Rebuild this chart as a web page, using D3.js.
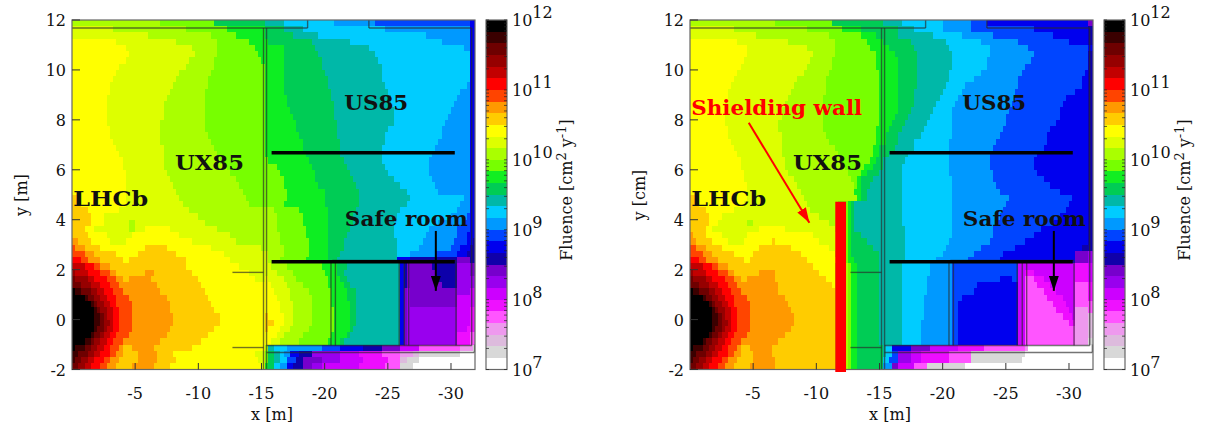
<!DOCTYPE html>
<html><head><meta charset="utf-8">
<script src="https://d3js.org/d3.v7.min.js"></script>
<style>html,body{margin:0;padding:0;background:#fff}svg{display:block}text{font-family:"DejaVu Serif",serif;fill:#111}</style>
</head><body><svg id="c" width="1206" height="430"></svg>
<script>
// contour level colours, from 10^12 (top) to 10^7 (bottom): six levels per decade
const levelColors = ["#000000","#3a0000","#6e0000","#960000","#c20000","#ff0000",
 "#ff4400","#ff9900","#ffcc00","#ffff00","#ddff00","#aaff00",
 "#77ff00","#11ee22","#00cc55","#00b8a8","#00ccff","#0099ff",
 "#0044ff","#0000ee","#1000aa","#7700cc","#9900ee","#cc00ff",
 "#ee11ff","#ff55ff","#ee99ee","#ddbbdd","#d8d8d8","#ffffff"];
const levelKeys = "ABCDEFGHIJKLMNOPQRSTUVWXYZabcd";
const xTicks = [-5,-10,-15,-20,-25,-30];
const yTicks = [12,10,8,6,4,2,0,-2];
const decades = [12,11,10,9,8,7];
// each row: fluence level + last column of the run (columns 0.25 m wide, rows 0.25 m tall, from y=12 down)
const fluenceNoWall = [
"L28 M45 O61 P67 Q83 R96 S126 T128",
"K13 L36 M49 N61 O67 P73 Q99 R126 T128",
"K24 L44 M52 N61 O70 P78 Q112 R126 T128",
"J14 K33 L46 M56 N62 O76 P88 Q117 R126 T128",
"J17 K38 L46 M58 N67 O77 P94 Q124 R126 T128",
"J18 K39 L46 M59 N67 O78 P96 Q126 T128",
"J17 K37 L45 M60 N67 O79 P97 Q126 T128",
"J15 K36 L45 M61 N67 O79 P98 Q126 T128",
"J14 K34 L44 M61 N67 O80 P98 Q126 T128",
"J13 K33 L43 M61 N67 O81 P98 Q126 T128",
"J12 K32 L43 M61 N67 O81 P99 Q125 R126 T128",
"J12 K31 L42 M61 N67 O82 P100 Q123 R126 T128",
"J11 K30 L42 M61 N68 O82 P101 Q122 R126 T128",
"J11 K29 L42 M61 N68 O83 P101 Q121 R126 T128",
"J11 K29 L42 M61 N69 O83 P102 Q120 R126 T128",
"J11 K29 L42 M61 N70 O83 P102 Q119 R126 T128",
"J11 K28 L42 M61 N71 O84 P102 Q118 R126 T128",
"J12 K28 L42 M61 N71 O84 P100 Q117 R126 T128",
"J12 K28 L43 M61 N72 O84 P99 Q117 R126 T128",
"J13 K28 L44 M61 N73 O85 P99 Q116 R126 T128",
"J14 K29 L45 M61 N73 O85 P98 Q115 R126 T128",
"J15 K29 L46 M61 N74 O85 P98 Q114 R126 T128",
"J16 K29 L47 M62 N75 O86 P98 Q113 R126 T128",
"J16 K29 L49 M65 N76 O87 P99 Q113 R126 T128",
"J17 K30 L50 M66 N77 O88 P100 Q113 R126 T128",
"J17 K31 L52 M67 N77 O89 P102 Q114 R126 T128",
"J17 K32 L53 M67 N78 O90 P104 Q115 R126 T128",
"J17 K33 L54 M68 N80 O91 P106 Q116 R126 T128",
"I2 J17 K34 L55 M68 N80 O91 P107 Q124 R126 T128",
"I3 J17 K35 L56 M67 N80 O91 P106 Q123 R126 T128",
"I5 J15 K37 L64 M72 N81 O90 P104 Q122 R126 T128",
"I6 J10 K40 L65 M73 N81 O89 P103 Q120 R125 S126 T128",
"I6 J10 K18 L20 K42 L65 M73 N81 O89 P102 Q116 R124 S126 T128",
"I4 J7 K18 L20 K23 J31 K46 L65 M74 N81 O88 P102 Q113 R122 S126 T128",
"I5 J11 K19 J34 K50 L66 M74 N81 O87 P102 Q112 R122 S125 T128",
"H2 I6 J12 K17 J38 K52 L66 M75 N81 O86 P103 Q111 R121 S125 T127 U128",
"G1 H4 I9 J23 I30 J44 K60 L67 M75 N81 O86 P103 Q110 R120 S123 T126 U128",
"G4 H7 I14 J21 I33 J48 K62 L67 M75 N81 O85 P103 Q107 R115 S122 T125 U128",
"F3 G5 H9 I16 J18 I36 J50 K62 L66 M74 N81 O84 P103 T107 U122 V126 U128",
"E4 F7 G9 H12 I36 J53 K63 L68 M79 N84 O87 P104 T105 U106 V114 U122 W126 V128",
"D1 E5 F9 G12 H14 I23 H26 I38 J56 K65 L70 M80 N84 O86 P104 T105 U106 V115 U122 W126 V128",
"C1 D5 E7 F11 G14 H16 I18 H25 I40 J58 K61 J62 K67 L71 M81 N85 O87 P104 T105 U106 V115 U122 W128",
"C3 D6 E9 F12 G15 H27 I41 J63 K68 L73 M81 N86 O88 P104 T105 U106 V117 U122 W128",
"A1 B3 C6 D8 E10 F13 G16 H28 I42 J64 K69 L75 M82 N87 O90 P104 T105 V106 W107 V122 W126 X128",
"A4 B5 C7 D9 E11 F14 G18 H30 I43 J65 K69 L76 M82 N87 O90 P104 T105 V106 W107 V122 X128",
"A6 B7 C8 D10 E12 F14 G19 H31 I44 J66 K70 L76 M82 N88 O90 P104 T105 V106 W107 V122 X128",
"A7 B8 C9 D11 E13 F15 G19 H31 I45 J66 K70 L76 M83 N88 O90 P104 T105 V106 W122 X126 Y128",
"A7 B9 C10 D11 E13 F15 G19 H32 I47 J61 I62 J67 K70 L76 M83 N88 O90 P104 T105 V106 W122 X126 Y128",
"A7 B9 C10 D12 E13 F15 G19 H32 I47 J61 I64 J67 K70 L76 M83 N88 O90 P104 T105 V106 W122 X126 Y128",
"A7 B8 C10 D11 E13 F15 G19 H31 I45 J61 I62 J66 K69 L75 M83 N88 O89 P104 T105 V106 W122 X125 Y128",
"A6 B7 C9 D10 E12 F14 G18 H30 I43 J65 K67 L73 M82 N87 O88 P104 T105 V106 W122 Y126 Z128",
"A4 B6 C7 D9 E11 F13 G16 H28 I41 J63 K66 L72 M81 N85 O86 P104 T105 V106 W122 Y126 Z128",
"A1 B4 C6 D8 E10 F12 G15 H16 I19 H26 I38 J61 L62 P64 Q68 R79 S85 T92 U98 V104 X110 Z123 a127 d128",
"B2 C5 D7 E9 F12 G14 H16 I21 H27 I32 J58 K61 M62 O64 P66 Q67 R69 T72 U76 W85 X91 Y98 Z104 a108 b110 c123 d128",
"B1 C3 D5 E7 F10 G12 H15 I21 H27 I33 J59 K61 M62 O64 P66 Q68 S71 U73 V79 W85 X92 Y100 Z104 b106 c110 d128",
"C2 D4 E6 F9 G11 H14 I19 H26 I31 J60 K61 N62 O64 Q66 R68 T70 U73 V76 W79 X91 Y99 Z104 c108 d128"
];
const fluenceWithWall = [
"L27 M45 O61 P67 Q80 R89 S94 T126 V128",
"K14 L37 M48 N54 O66 P71 Q80 R89 S109 T126 U128",
"K21 L44 M54 N59 O66 P77 Q86 R96 S115 T126 U128",
"J15 K31 L46 M56 N61 O70 P81 Q92 R104 S120 T126 U128",
"J18 K37 L46 M57 N63 O71 P82 Q95 R107 S126 T128",
"J18 K39 L46 M59 N65 O72 P83 Q95 R109 S126 U128",
"J17 K38 L45 M59 N66 O72 P83 Q94 R108 S126 U128",
"J16 K37 L45 M59 N66 O72 P83 Q94 R106 S126 U128",
"J15 K36 L44 M60 N66 O72 P82 Q92 R105 S125 T126 U128",
"J14 K34 L43 M60 N66 O72 P82 Q90 R104 S124 T126 U128",
"J13 K33 L43 M60 N66 O72 P81 Q87 R104 S124 T126 U128",
"J12 K32 L43 M60 N66 O71 P80 Q86 R103 S122 T126 U128",
"J12 K31 L42 M60 N66 O71 P79 Q85 R103 S119 T126 U128",
"J11 K30 L42 M60 N66 O71 P78 Q84 R102 S118 T126 U128",
"J11 K29 L42 M60 N66 O70 P77 Q83 R101 S117 T126 U128",
"J11 K29 L42 M60 N65 O69 P76 Q83 R100 S117 T126 U128",
"J11 K28 L42 M60 N64 O68 P75 Q83 R100 S116 T126 U128",
"J12 K28 L42 M59 N63 O67 P74 Q83 R99 S114 T126 U128",
"J12 K29 L43 M59 N62 O66 P73 Q83 R98 S113 T126 U128",
"J13 K29 L44 M59 N62 O66 P71 Q82 R97 S113 T126 U128",
"J14 K29 L46 M58 N60 O65 P71 Q82 R96 S112 T126 U128",
"J15 K29 L47 M58 N60 O63 P69 Q82 R95 S110 T126 U128",
"J16 K30 L48 M57 N59 O61 P68 Q82 R95 S109 T126 U128",
"J16 K30 L49 M55 N58 O61 P67 Q82 R95 S109 T126 U128",
"J17 K31 L50 M54 N56 O60 P67 Q82 R96 S110 T126 U128",
"J17 K33 L51 M53 N54 O58 P67 Q83 R96 S112 T126 U128",
"J18 K34 L52 M53 N54 O57 P67 Q83 R97 S114 T126 U128",
"J18 K35 L52 N54 O56 P67 Q83 R98 S117 T126 U128",
"I3 J18 K36 L53 N54 O56 P67 Q83 R101 S121 T126 U128",
"I3 J17 K37 L47 M50 N51 O52 P67 Q83 R100 S120 T126 U128",
"I5 J14 K38 L49 M50 N51 O52 P67 Q83 R99 S119 T126 U128",
"I6 J10 K41 L49 M50 N51 O52 P67 Q83 R98 S117 T126 U128",
"I6 J9 K18 L20 K44 L49 M50 N51 O52 P67 Q83 R97 S115 T126 U128",
"I5 J7 K22 J30 K46 L49 M50 N51 O52 P68 Q83 R96 S111 T126 U128",
"H1 I5 J10 K18 J39 K47 L49 M50 N51 O54 P68 Q83 R96 S109 T126 U128",
"H2 I7 J12 K17 J26 I27 J41 K47 L49 M50 N51 O56 P68 Q82 R95 S106 T126 U128",
"G2 H5 I10 J22 I32 J44 K47 L49 M50 N51 O58 P68 Q81 R92 S103 T124 U128",
"G4 H7 I14 J20 I35 J46 L49 M50 N51 O60 P68 Q80 R90 S99 T122 V126 W128",
"F3 G5 H9 I17 J19 I37 J47 L49 M50 N52 O60 P68 Q78 R88 S98 T122 V126 W128",
"E4 F7 G9 H12 I39 J46 L50 M51 N53 O60 P67 Q76 R83 S104 X122 Y126 X128",
"D1 E5 F9 G12 H14 I22 H27 I41 J46 L50 M51 N53 O60 P67 Q76 R83 S104 X106 Y109 X122 Y126 X128",
"C1 D5 E7 F11 G14 H16 I18 H27 I43 J46 L50 M51 N53 O60 P67 Q75 R83 S98 T102 S104 X106 Z109 Y112 X122 Y126 X128",
"C3 D6 E9 F12 G15 H28 I45 J46 L50 M51 N53 O60 P67 Q75 R83 S91 T104 X106 Z110 Y114 X122 Z126 Y128",
"A1 B3 C6 D8 E10 F13 G16 H28 I46 L50 M51 N53 O60 P67 Q75 R83 S90 T104 X106 Z112 Y116 X122 Z126 Y128",
"A4 B5 C7 D9 E11 F14 G18 H30 I46 L50 M51 N53 O60 P67 Q74 R83 S86 T104 X106 Z113 Y118 X122 Z126 Y128",
"A6 B7 C8 D10 E12 F14 G19 H31 I46 L50 M51 N53 O60 P67 Q74 R83 S85 T104 X106 Z115 Y119 X122 Z126 Z128",
"A7 B8 C9 D11 E13 F15 G19 H32 I46 L50 M51 N53 O60 P67 Q74 R83 S85 T104 X106 Z116 Y120 X122 a126 Z128",
"A7 B9 C10 D11 E13 F15 G19 H33 I46 L50 M51 N53 O60 P67 Q74 R83 S85 T104 X106 Z118 Y121 X122 a126 b128",
"A7 B9 C10 D12 E13 F15 G19 H33 I46 L50 M51 N53 O60 P67 Q73 R83 S85 T104 X106 Z120 Y122 a126 b128",
"A7 B8 C10 D11 E13 F15 G19 H32 I46 L50 M51 N53 O60 P67 Q73 R83 S85 T104 X106 Z122 a126 b128",
"A6 B7 C9 D10 E12 F14 G18 H30 I46 L50 M51 N53 O60 P67 Q73 R83 S85 T104 X106 Z122 a126 b128",
"A4 B5 C7 D9 E11 F13 G16 H28 I46 L50 M51 N53 O60 P67 Q73 R83 S85 T104 X106 Z122 a126 c128",
"A1 B4 C6 D8 E10 F12 G15 H16 I19 H26 I46 L50 M51 N53 O61 P62 Q64 T70 V76 X85 Y93 Z106 a107 d128",
"B2 C5 D7 E9 F12 G14 H16 I20 H26 I46 L50 M51 N53 O61 P62 Q64 S66 W70 X73 Y82 Z89 c106 d128",
"B1 C3 D5 E7 F10 G12 H15 I20 H27 I46 L50 M51 N53 O61 Q63 S66 W70 X73 Y82 Z89 c105 d128",
"C2 D4 E6 F9 G11 H14 I19 H27 I46 L50 M51 N53 O61 R64 V66 X71 Z75 c87 d128"
];
// cavern structure, metres: [x1,y1,x2,y2]
const walls = [
[0,11.68,-18.65,11.68],[-18.65,11.68,-18.65,12],[-23.5,12,-23.5,11.68],[-23.5,11.68,-31.64,11.68],
[-15.16,11.68,-15.16,-2],[-15.4,11.68,-15.4,-2],[-31.64,11.68,-31.64,-1.04],
[-20.6,2.37,-30.4,2.37],[-20.5,2.37,-20.5,-1.04],[-20.85,2.37,-20.85,-1.04],
[-25.9,2.37,-25.9,-1.04],[-26.3,2.37,-26.3,-1.04],[-26.65,2.37,-26.65,-1.04],[-30.4,2.37,-30.4,-1.04],
[-15.4,-1.04,-31.64,-1.04],[-15.4,-1.32,-31.85,-1.32],[-31.85,-1.32,-31.85,-1.0],
[-12.7,1.89,-15.16,1.89],[-12.7,-1.12,-15.16,-1.12]
];
const thickWalls = [[-15.8,6.68,-30.3,6.68],[-15.8,2.32,-30.3,2.32]];
const safeArrow = [-28.8,3.55,-28.8,1.15];

const svg = d3.select("#c");
const keyValue = k => Math.pow(10, 12 - (levelKeys.indexOf(k) + 0.5) / 6);
const color = d3.scaleThreshold()
  .domain(d3.range(1,30).map(i => Math.pow(10, 7 + i/6)))
  .range(levelColors.slice().reverse());

const defs = svg.append("defs");
defs.append("filter").attr("id","soft").attr("x",0).attr("y",0).attr("width",1).attr("height",1)
  .append("feGaussianBlur").attr("stdDeviation",0.7);
function arrowHead(id, fill, w, l){
  defs.append("marker").attr("id",id).attr("markerUnits","userSpaceOnUse")
    .attr("viewBox",`0 0 ${l} ${w}`).attr("refX",l).attr("refY",w/2)
    .attr("markerWidth",l).attr("markerHeight",w).attr("orient","auto")
    .append("path").attr("d",`M0,0L${l},${w/2}L0,${w}Z`).attr("fill",fill);
}
arrowHead("ah","#000",10,15); arrowHead("ahr","#ff0000",10,15);

function panel(dx, rows, ylab, id, showWall, lab){
  const g = svg.append("g").attr("transform",`translate(${dx},0)`);
  const x = d3.scaleLinear().domain([0,-31.9]).range([72,475]);
  const y = d3.scaleLinear().domain([12,-2]).range([20,369.5]);
  defs.append("clipPath").attr("id",id).append("rect").attr("x",72).attr("y",20).attr("width",403).attr("height",349.5);
  const cells = [];
  rows.forEach((s,r)=>{
    let prev = 0;
    s.split(" ").forEach(tok=>{
      const end = +tok.slice(1);
      cells.push({r, c0:prev, c1:end, v:keyValue(tok[0])});
      prev = end;
    });
  });
  g.append("g").attr("clip-path",`url(#${id})`).append("g").attr("filter","url(#soft)").attr("shape-rendering","crispEdges")
    .selectAll("rect").data(cells).join("rect")
    .attr("x",d=>x(-d.c0*0.25)).attr("width",d=>Math.max(0,x(-d.c1*0.25)-x(-d.c0*0.25)))
    .attr("y",d=>y(12-d.r*0.25)).attr("height",d=>y(12-(d.r+1)*0.25)-y(12-d.r*0.25))
    .attr("fill",d=>color(d.v));
  g.append("g").selectAll("line").data(walls).join("line")
    .attr("x1",d=>x(d[0])).attr("y1",d=>y(d[1])).attr("x2",d=>x(d[2])).attr("y2",d=>y(d[3]))
    .attr("stroke","#2a2a2a").attr("stroke-opacity",0.65).attr("stroke-width",1.4);
  g.append("g").selectAll("line").data(thickWalls).join("line")
    .attr("x1",d=>x(d[0])).attr("y1",d=>y(d[1])).attr("x2",d=>x(d[2])).attr("y2",d=>y(d[3]))
    .attr("stroke","#000").attr("stroke-width",3.5);
  // frame + ticks
  g.append("rect").attr("x",72).attr("y",20).attr("width",403).attr("height",349.5)
    .attr("fill","none").attr("stroke","#666").attr("stroke-width",1.2);
  g.append("g").selectAll("line").data(xTicks).join("line")
    .attr("x1",x).attr("x2",x).attr("y1",369.5).attr("y2",363).attr("stroke","#333");
  g.append("g").selectAll("line").data(yTicks).join("line")
    .attr("y1",y).attr("y2",y).attr("x1",72).attr("x2",80).attr("stroke","#333");
  g.append("g").selectAll("text").data(xTicks).join("text")
    .attr("x",x).attr("y",399).attr("text-anchor","middle").attr("font-size",16).text(d=>d);
  g.append("g").selectAll("text").data(yTicks).join("text")
    .attr("x",66).attr("y",d=>y(d)+6).attr("text-anchor","end").attr("font-size",16).text(d=>d);
  g.append("text").attr("x",272).attr("y",420).attr("text-anchor","middle").attr("font-size",16).text("x [m]");
  g.append("text").attr("transform","translate(27,195) rotate(-90)").attr("text-anchor","middle").attr("font-size",16).text(ylab);
  // annotations
  if(showWall){
    g.append("rect").attr("x",x(-11.5)).attr("width",x(-12.35)-x(-11.5)).attr("y",y(4.72)).attr("height",y(-2.1)-y(4.72)).attr("fill","#ff0000");
    g.append("line").attr("x1",x(-4.65)).attr("y1",y(7.88)).attr("x2",x(-9.45)).attr("y2",y(3.88))
      .attr("stroke","#ff0000").attr("stroke-width",2).attr("marker-end","url(#ahr)");
  }
  lab.forEach(l=>g.append("text").attr("x",x(l[1])).attr("y",y(l[2])).attr("font-weight","bold").attr("font-size",21)
    .attr("textLength",l[3]).attr("lengthAdjust","spacingAndGlyphs").style("fill",l[4]||"#111").text(l[0]));
  g.append("line").attr("x1",x(safeArrow[0])).attr("y1",y(safeArrow[1])).attr("x2",x(safeArrow[2])).attr("y2",y(safeArrow[3]))
    .attr("stroke","#000").attr("stroke-width",2).attr("marker-end","url(#ah)");
  // colour bar
  const cb = d3.scaleLog().domain([1e7,1e12]).range([369.5,20]);
  const lv = levelColors.map((c,i)=>({c, hi:Math.pow(10,12-i/6), lo:Math.pow(10,12-(i+1)/6)}));
  g.append("g").attr("shape-rendering","crispEdges").selectAll("rect").data(lv).join("rect")
    .attr("x",486).attr("width",21).attr("y",d=>cb(d.hi)).attr("height",d=>cb(d.lo)-cb(d.hi)).attr("fill",d=>d.c);
  g.append("rect").attr("x",486).attr("y",20).attr("width",21).attr("height",349.5).attr("fill","none").attr("stroke","#666").attr("stroke-width",1.2);
  const mt = cb.ticks();
  [[486,489],[507,504]].forEach(p=>g.append("g").selectAll("line").data(mt).join("line")
    .attr("x1",p[0]).attr("x2",p[1]).attr("y1",cb).attr("y2",cb).attr("stroke","#222").attr("stroke-opacity",0.7));
  const dl = g.append("g").selectAll("text").data(decades).join("text")
    .attr("x",512).attr("y",d=>cb(Math.pow(10,d))+6).attr("font-size",16);
  dl.append("tspan").text("10");
  dl.append("tspan").attr("dy",-8).text(d=>d);
  const fl = g.append("text").attr("transform","translate(572,190) rotate(-90)").attr("text-anchor","middle").attr("font-size",16);
  fl.append("tspan").text("Fluence [cm");
  fl.append("tspan").attr("dy",-6).attr("font-size",13).text("2");
  fl.append("tspan").attr("dy",6).text(" y");
  fl.append("tspan").attr("dy",-6).attr("font-size",13).text("-1");
  fl.append("tspan").attr("dy",6).text("]");
}
const labels = [["LHCb",-0.1,4.55,75],["UX85",-8.15,6.0,69],["US85",-21.55,8.4,64],["Safe room",-21.6,3.75,123]];
panel(0, fluenceNoWall, "y [m]", "p1", false, labels);
panel(618, fluenceWithWall, "y [cm]", "p2", true, labels.concat([["Shielding wall",-0.1,8.2,171,"#ff0000"]]));
</script></body></html>
